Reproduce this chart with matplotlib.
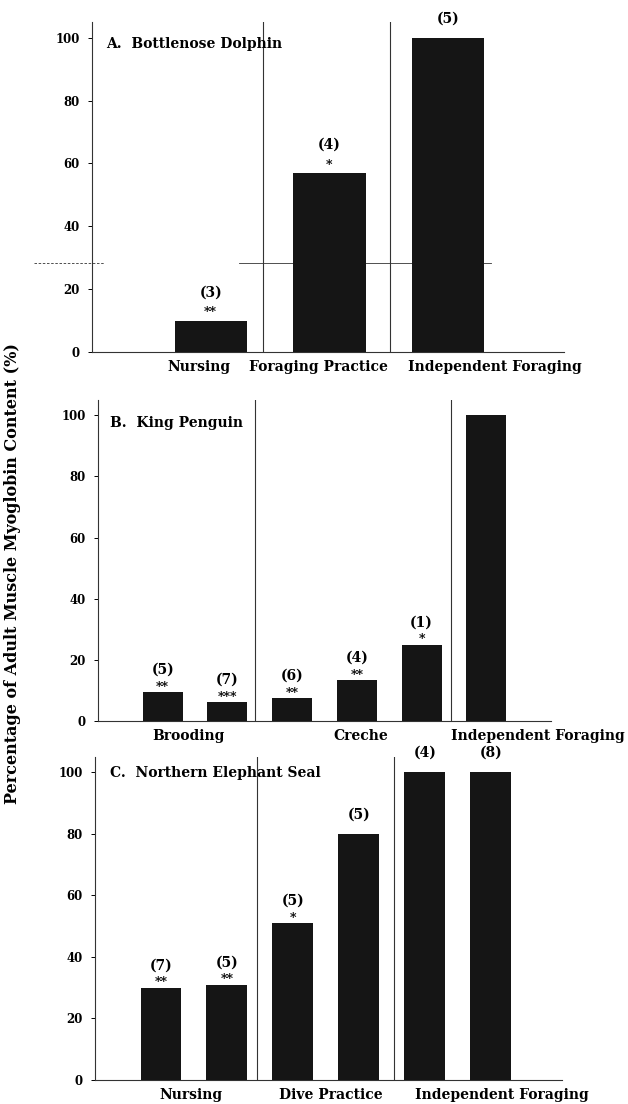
import matplotlib
matplotlib.use("Agg")
import matplotlib.pyplot as plt

# --- DATA ---
A_VALUES = [10, 57, 100]
A_N = ["(3)", "(4)", "(5)"]
A_STARS = ["**", "*", ""]
A_LABELS = ["Nursing", "Foraging Practice", "Independent Foraging"]

B_VALUES = [9.5, 6.2, 7.5, 13.3, 25, 100]
B_N = ["(5)", "(7)", "(6)", "(4)", "(1)", ""]
B_STARS = ["**", "***", "**", "**", "*", ""]
B_LABELS = ["Brooding", "Creche", "Independent Foraging"]

C_VALUES = [30, 31, 51, 80, 100, 100]
C_N = ["(7)", "(5)", "(5)", "(5)", "(4)", "(8)"]
C_STARS = ["**", "**", "*", "", "", ""]
C_LABELS = ["Nursing", "Dive Practice", "Independent Foraging"]

ADULT_LINE_A = 28.3  # stray horizontal rule in panel A
Y_TICKS = [0, 20, 40, 60, 80, 100]

FONT = "DejaVu Serif"
BAR_COLOR = "#151515"
LINE_COLOR = "#333333"
W, H = 628, 1104


def px_axes(fig, left, right, bottom, top):
    # pixel box -> figure fraction
    return fig.add_axes([left / W, 1 - bottom / H, (right - left) / W, (bottom - top) / H])


def draw_panel(ax, values, ns, stars, labels, xmax, width, dividers, label_x,
               title, title_xy, star_off=1.0, n_off=(16, 14)):
    xs = list(range(1, len(values) + 1))
    ax.bar(xs, values, width=width, color=BAR_COLOR, zorder=3)

    for x, v, n, s in zip(xs, values, ns, stars):
        if s:
            ax.annotate(s, (x, v), xytext=(0, star_off), textcoords="offset points",
                        ha="center", va="baseline", fontsize=9,
                        fontweight="bold", family=FONT)
        if n:
            off = n_off[0] if s else n_off[1]
            ax.annotate(n, (x, v), xytext=(0, off), textcoords="offset points",
                        ha="center", va="center", fontsize=10,
                        fontweight="bold", family=FONT, annotation_clip=False)

    for d in dividers:
        ax.axvline(d, ymin=0, ymax=1, color=LINE_COLOR, lw=0.8, zorder=2)

    for lx, lab in zip(label_x, labels):
        ax.annotate(lab, (lx, 0), xycoords=("data", "axes fraction"),
                    xytext=(0, -11), textcoords="offset points",
                    ha="center", va="center", fontsize=10, fontweight="bold",
                    family=FONT, annotation_clip=False)

    ax.text(title_xy[0], title_xy[1], title, ha="left", va="center",
            fontsize=10, fontweight="bold", family=FONT)

    ax.set_xlim(0, xmax)
    ax.set_ylim(0, 105)
    ax.set_xticks([])
    ax.set_yticks(Y_TICKS)
    ax.tick_params(axis="y", direction="out", length=3, width=0.7,
                   labelsize=8.5, pad=6, colors="black")
    for lab in ax.get_yticklabels():
        lab.set_fontweight("bold")
        lab.set_family(FONT)
    for side in ("top", "right"):
        ax.spines[side].set_visible(False)
    for side in ("left", "bottom"):
        ax.spines[side].set_linewidth(0.8)
        ax.spines[side].set_color(LINE_COLOR)


fig = plt.figure(figsize=(W / 100, H / 100), dpi=100)

ax_a = px_axes(fig, 92, 564, 352, 22)
draw_panel(ax_a, A_VALUES, A_N, A_STARS, A_LABELS, 3.975, 0.61,
           [1.44, 2.51], [0.9, 1.91, 3.39], "A.  Bottlenose Dolphin", (0.12, 98),
           star_off=3.0, n_off=(20, 14))
ax_a.plot([-0.49, 0.1], [ADULT_LINE_A, ADULT_LINE_A], color=LINE_COLOR, lw=0.6,
          ls=(0, (3, 2)), clip_on=False, zorder=1)
ax_a.plot([1.24, 3.36], [ADULT_LINE_A, ADULT_LINE_A], color=LINE_COLOR, lw=0.6,
          clip_on=False, zorder=1)

ax_b = px_axes(fig, 98, 551, 721, 400)
draw_panel(ax_b, B_VALUES, B_N, B_STARS, B_LABELS, 7.0, 0.62,
           [2.42, 5.45], [1.40, 4.06, 6.79], "B.  King Penguin", (0.19, 97.4))

ax_c = px_axes(fig, 95, 562, 1080, 757)
draw_panel(ax_c, C_VALUES, C_N, C_STARS, C_LABELS, 7.08, 0.62,
           [2.45, 4.53], [1.45, 3.58, 6.17], "C.  Northern Elephant Seal", (0.23, 99.7))

fig.text(13 / W, 1 - 574 / H, "Percentage of Adult Muscle Myoglobin Content (%)",
         rotation=90, ha="center", va="center", fontsize=11.5,
         fontweight="bold", family=FONT)

fig.savefig("out.png", dpi=100, facecolor="white")
